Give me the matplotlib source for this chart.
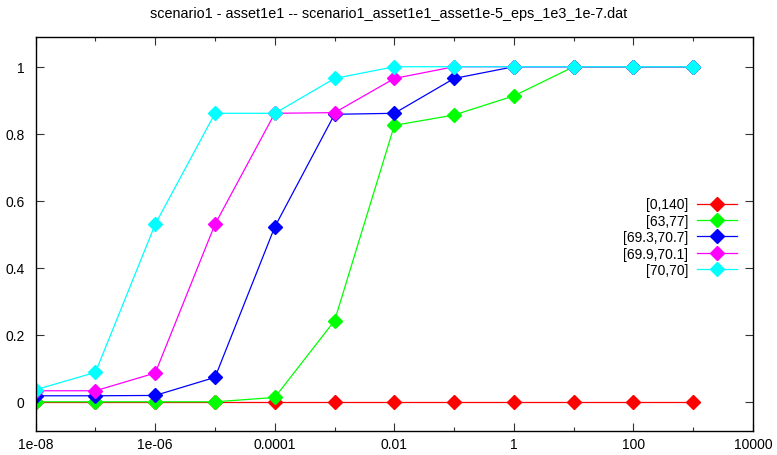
import matplotlib
matplotlib.use("Agg")
import matplotlib.pyplot as plt
from matplotlib.ticker import NullFormatter

plt.rcParams['font.family'] = ['Liberation Sans', 'DejaVu Sans']

title = "scenario1 - asset1e1 -- scenario1_asset1e1_asset1e-5_eps_1e3_1e-7.dat"

x_vals = [1e-8, 1e-7, 1e-6, 1e-5, 1e-4, 1e-3, 1e-2, 1e-1, 1, 10, 100, 1000]

labels = ["[0,140]", "[63,77]", "[69.3,70.7]", "[69.9,70.1]", "[70,70]"]
colors = ["#ff0000", "#00ff00", "#0000ff", "#ff00ff", "#00ffff"]

s_0_140 = [0, 0, 0, 0, 0, 0, 0, 0, 0, 0, 0, 0]
s_63_77 = [0, 0, 0, 0, 0.013, 0.242, 0.825, 0.856, 0.913, 1, 1, 1]
s_693_707 = [0.018, 0.018, 0.019, 0.073, 0.522, 0.858, 0.861, 0.965, 1, 1, 1, 1]
s_699_701 = [0.033, 0.033, 0.086, 0.530, 0.861, 0.863, 0.965, 1, 1, 1, 1, 1]
s_70_70 = [0.036, 0.088, 0.530, 0.861, 0.861, 0.965, 1, 1, 1, 1, 1, 1]

series = [s_0_140, s_63_77, s_693_707, s_699_701, s_70_70]

x_ticks = [1e-8, 1e-6, 1e-4, 1e-2, 1, 100, 10000]
x_ticklabels = ["1e-08", "1e-06", "0.0001", "0.01", "1", "100", "10000"]
x_minor = [1e-7, 1e-5, 1e-3, 1e-1, 10, 1000]
y_ticks = [0, 0.2, 0.4, 0.6, 0.8, 1]
y_ticklabels = ["0", "0.2", "0.4", "0.6", "0.8", "1"]

fig = plt.figure(figsize=(7.77, 4.56), dpi=100)
ax = fig.add_axes([35.7/777, 1 - 432.3/456, (753-35.7)/777, (432.3-37.7)/456])

for ys, lab, c in zip(series, labels, colors):
    ax.plot(x_vals, ys, color=c, lw=0.9, marker='D', ms=7.5, mec=c, mfc=c, label=lab)

ax.set_xscale('log')
ax.set_xlim(1e-8, 1e4)
ax.set_ylim(-0.088, 1.0896)
ax.set_xticks(x_ticks)
ax.set_xticklabels(x_ticklabels)
ax.set_xticks(x_minor, minor=True)
ax.xaxis.set_minor_formatter(NullFormatter())
ax.set_yticks(y_ticks)
ax.set_yticklabels(y_ticklabels)

ax.tick_params(which='major', direction='in', length=6, width=0.8, top=True, right=True,
               labelsize=10, color='#333333')
ax.tick_params(axis='x', which='major', pad=4)
ax.tick_params(axis='y', which='major', pad=8)
ax.tick_params(which='minor', direction='in', length=3, width=0.8, top=True, right=True,
               color='#333333')
for sp in ax.spines.values():
    sp.set_linewidth(1.0)
    sp.set_color('black')

fig.suptitle(title, y=1 - 14/456, va='center', fontsize=10.4)

leg = ax.legend(loc='center right', bbox_to_anchor=(0.978, 0.492), markerfirst=False,
                frameon=False, fontsize=10, handlelength=2.9, handletextpad=0.65,
                labelspacing=0.17, borderpad=0, borderaxespad=0)

fig.savefig("out.png", dpi=100)
